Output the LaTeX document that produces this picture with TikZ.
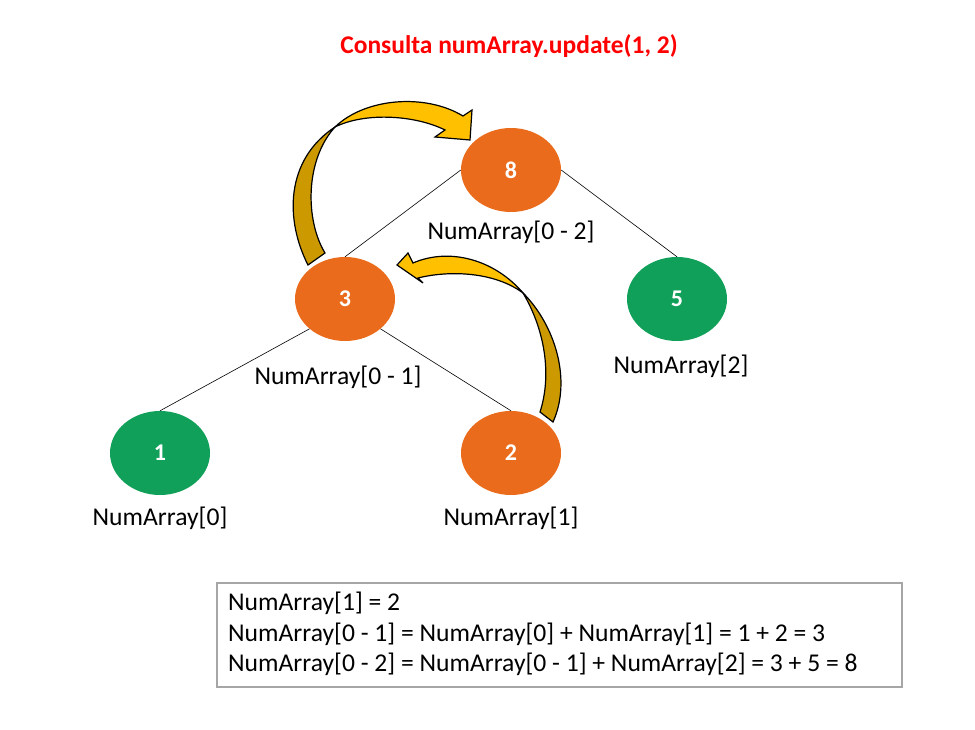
\documentclass[tikz,border=0pt]{standalone}
\usepackage{fontspec}
\setmainfont{Carlito}
\usetikzlibrary{shapes.geometric}
\definecolor{segorange}{HTML}{EA6B1B}
\definecolor{seggreen}{HTML}{11A05A}
\definecolor{arrowgold}{HTML}{FFC000}
\definecolor{arrowdark}{HTML}{CC9A00}
\definecolor{boxgray}{HTML}{A6A6A6}
\tikzset{
 segnode/.style={ellipse,minimum width=100pt,minimum height=84pt,inner sep=0pt,text=white,font=\fontsize{24}{28}\selectfont\bfseries},
 internal/.style={segnode,fill=segorange},
 leaf/.style={segnode,fill=seggreen},
 rangelabel/.style={font=\fontsize{25.6}{30.5}\selectfont},
 edge/.style={line width=0.6pt},
 bend front/.style={fill=arrowgold,draw=black,line width=1.2pt,line join=miter},
 bend back/.style={fill=arrowdark,draw=black,line width=1.2pt,line join=miter},
}

\begin{document}
\begin{tikzpicture}[x=1pt,y=-1pt]
\useasboundingbox (0,0) rectangle (975,730);

%title
\node[font=\fontsize{25.5}{30}\selectfont\bfseries,text=red] (title) at (509,46) {Consulta numArray.update(1, 2)};

%tree
\node[internal] (n8) at (511,170) {8};
\node[internal] (n3) at (345,299) {3};
\node[leaf] (n5) at (677,299) {5};
\node[leaf] (n1) at (160,453) {1};
\node[internal] (n2) at (511,453) {2};

%ranges
\node[rangelabel] (r02) at (511,232) {NumArray[0 - 2]};
\node[rangelabel] (r01) at (338,377) {NumArray[0 - 1]};
\node[rangelabel] (r2) at (681,366) {NumArray[2]};
\node[rangelabel] (r0) at (160,518) {NumArray[0]};
\node[rangelabel] (r1) at (511,518) {NumArray[1]};

%edges
\draw[edge] (n8.west) -- (n3.north);
\draw[edge] (n8.east) -- (n5.north);
\draw[edge] (n3.south west) -- (n1.north);
\draw[edge] (n3.south east) -- (n2.north);

%update arrow 3 -> 8
\draw[bend back] (308,265) .. controls (285,220) and (285,160) .. (335,127)
  .. controls (305,160) and (305,220) .. (325,253) -- cycle;
\draw[bend front] (335,127) .. controls (365,98) and (425,93) .. (463,116)
  -- (472,110) -- (470,140) -- (435,137) -- (445,130)
  .. controls (415,115) and (365,112) .. (335,127) -- cycle;

%update arrow 2 -> 3
\draw[bend back] (523,293) .. controls (555,325) and (572,380) .. (553,422)
  -- (540,412) .. controls (552,375) and (545,330) .. (523,293) -- cycle;
\draw[bend front] (523,293) .. controls (495,260) and (450,247) .. (413,263)
  -- (408,253) -- (397,265) -- (423,283) -- (418,278)
  .. controls (450,270) and (495,272) .. (523,293) -- cycle;

%sums
\draw[boxgray,line width=2pt] (217,583) rectangle (902,687);
\node[rangelabel,align=left,anchor=west,inner sep=0pt] (sums) at (228,634)
  {NumArray[1] = 2\\
   NumArray[0 - 1] = NumArray[0] + NumArray[1] = 1 + 2 = 3\\
   NumArray[0 - 2] = NumArray[0 - 1] + NumArray[2] = 3 + 5 = 8};

\end{tikzpicture}
\end{document}
